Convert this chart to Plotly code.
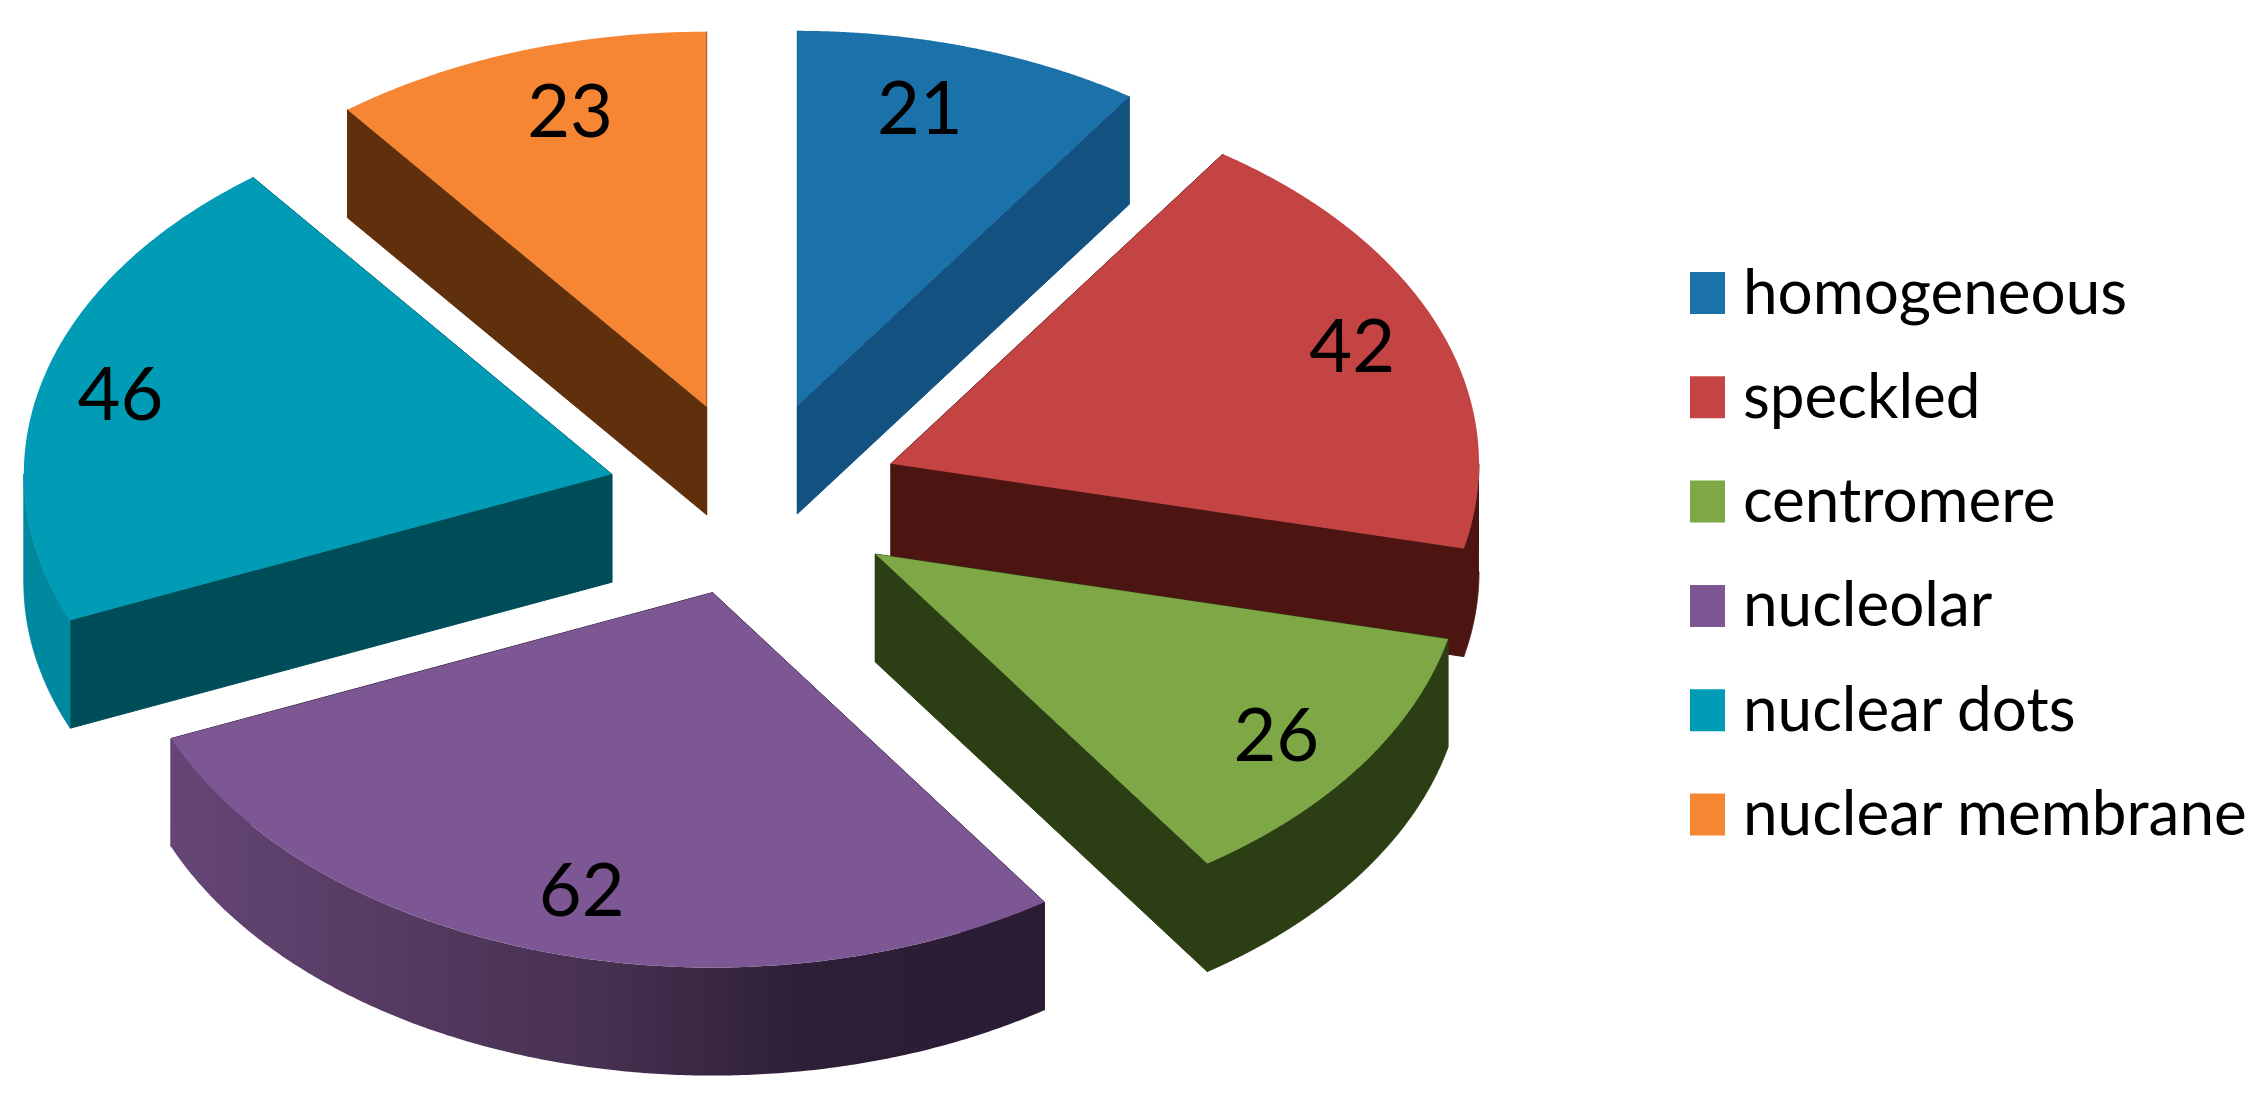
import numpy as np
import plotly.graph_objects as go

CATEGORIES = ["homogeneous", "speckled", "centromere", "nucleolar", "nuclear dots", "nuclear membrane"]
VALUES = [21, 42, 26, 62, 46, 23]

TOP_COLORS = ["#1B71A9", "#C44343", "#7EA746", "#7D5793", "#009CB6", "#F68634"]
FACE_COLORS = ["#135180", "#4C1512", "#2C3F14", "#2C1E37", "#004D5A", "#602F0C"]
RIM_COLORS = ["#135180", "#4C1512", "#2C3F14", "#2C1E37", "#00889F", "#602F0C"]

# squashed pie, in page pixels
WIDTH, HEIGHT = 2260, 1096
CX, CY = 746, 491
RX, RY = 588, 375
DEPTH = 108
EXPLODE_X, EXPLODE_Y = 0.25, 0.26
LABEL_RADIUS = 0.82
LABEL_NUDGE_X = [-20, 12, 3, 5, -25, 19]
LABEL_NUDGE_Y = [3, 1, 15, 10, 5, 3]
FONT = "Lato"

# back to front
DRAW_ORDER = [5, 0, 4, 1, 2, 3]


def polar(angle):
    return RX * np.sin(angle), -RY * np.cos(angle)


def filled(xs, ys, color, edge=0, **kwargs):
    # edge=1 hides the hairline between a cut face and its rim
    return go.Scatter(x=xs, y=ys, mode="lines", fill="toself", fillcolor=color,
                      line=dict(width=edge, color=color, simplify=False),
                      hoverinfo="skip", showlegend=False, **kwargs)


edges = np.cumsum([0] + VALUES) / sum(VALUES) * 2 * np.pi

fig = go.Figure()

# legend, drawn on the same axes so the swatches can have the reference's size
legend_y = [285 + i * 104.3 for i in range(len(CATEGORIES))]
fig.add_trace(go.Bar(y=legend_y, x=[35] * len(CATEGORIES), base=1682, width=42, orientation="h",
                     marker=dict(color=TOP_COLORS, line=dict(width=0)), hoverinfo="skip", showlegend=False))
fig.add_trace(go.Scatter(x=[1735] * len(CATEGORIES), y=[y + 5 for y in legend_y], mode="text", text=CATEGORIES,
                         textposition="middle right", textfont=dict(family=FONT, size=62, color="#000000"),
                         hoverinfo="skip", showlegend=False))

tips = []
for i in range(len(VALUES)):
    ox, oy = polar((edges[i] + edges[i + 1]) / 2)
    tips.append((CX + EXPLODE_X * ox, CY + EXPLODE_Y * oy))

for i in DRAW_ORDER:
    lo, hi = edges[i], edges[i + 1]
    tip_x, tip_y = tips[i]
    theta = np.linspace(lo, hi, 240)
    arc_x = tip_x + RX * np.sin(theta)
    arc_y = tip_y - RY * np.cos(theta)

    # the two cut faces
    for k in (0, -1):
        fx = [tip_x, arc_x[k], arc_x[k], tip_x, tip_x]
        fy = [tip_y, arc_y[k], arc_y[k] + DEPTH, tip_y + DEPTH, tip_y]
        fig.add_trace(filled(fx, fy, FACE_COLORS[i], edge=1))

    # outer rim, only the part facing the viewer
    rim_lo, rim_hi = max(lo, np.pi / 2), min(hi, 3 * np.pi / 2)
    if rim_lo < rim_hi:
        rim_theta = np.linspace(rim_lo, rim_hi, 240)
        edge_x = tip_x + RX * np.sin(rim_theta)
        edge_y = tip_y - RY * np.cos(rim_theta)
        rim_x = np.concatenate([edge_x, edge_x[::-1]])
        rim_y = np.concatenate([edge_y, edge_y[::-1] + DEPTH])
        if CATEGORIES[i] == "nucleolar":
            fig.add_trace(filled(rim_x, rim_y, RIM_COLORS[i], fillgradient=dict(
                type="horizontal",
                colorscale=[[0, "#654575"], [0.5, "#46304F"], [0.72, "#2E1F39"], [1, "#2B1C36"]])))
        else:
            fig.add_trace(filled(rim_x, rim_y, RIM_COLORS[i], edge=1))

    # top
    top_x = np.concatenate([[tip_x], arc_x, [tip_x]])
    top_y = np.concatenate([[tip_y], arc_y, [tip_y]])
    fig.add_trace(filled(top_x, top_y, TOP_COLORS[i]))

# value labels
label_x, label_y = [], []
for i in range(len(VALUES)):
    ox, oy = polar((edges[i] + edges[i + 1]) / 2)
    label_x.append(tips[i][0] + LABEL_RADIUS * ox + LABEL_NUDGE_X[i])
    label_y.append(tips[i][1] + LABEL_RADIUS * oy + LABEL_NUDGE_Y[i])
fig.add_trace(go.Scatter(x=label_x, y=label_y, mode="text", text=[str(v) for v in VALUES],
                         textposition="middle center", textfont=dict(family=FONT, size=74, color="#000000"),
                         hoverinfo="skip", showlegend=False))

fig.update_layout(width=WIDTH, height=HEIGHT, margin=dict(l=0, r=0, t=0, b=0), paper_bgcolor="white",
                  plot_bgcolor="white", showlegend=False, barmode="overlay")
fig.update_xaxes(range=[0, WIDTH], visible=False, fixedrange=True)
fig.update_yaxes(range=[HEIGHT, 0], visible=False, fixedrange=True)

fig.write_html("out.html")
